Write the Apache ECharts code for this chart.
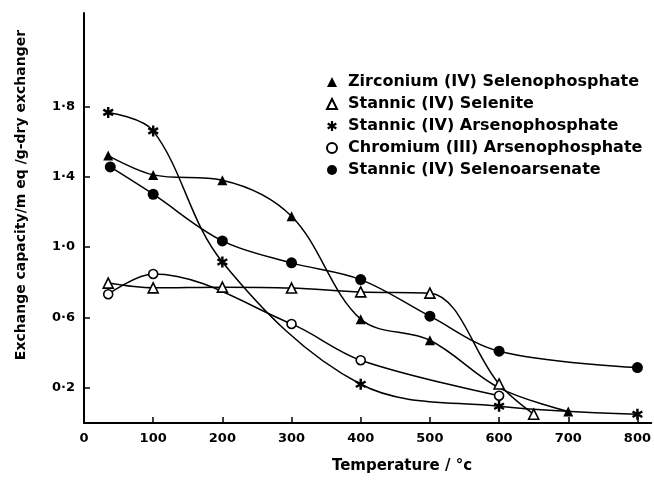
<!DOCTYPE html>
<html>
<head>
<meta charset="utf-8">
<script src="https://cdn.jsdelivr.net/npm/echarts@6/dist/echarts.min.js"></script>
<style>
html,body{margin:0;padding:0;background:#fff;}
#c{width:654px;height:480px;}
</style>
</head>
<body>
<div id="c"></div>
<script>
// ---- data ----
var seriesNames = [
  'Zirconium (IV) Selenophosphate',
  'Stannic (IV) Selenite',
  'Stannic (IV) Arsenophosphate',
  'Chromium (III) Arsenophosphate',
  'Stannic (IV) Selenoarsenate'
];
var zrSelenophosphate = [[35,1.52],[100,1.41],[200,1.38],[300,1.175],[400,0.59],[500,0.47],[600,0.2],[700,0.065]];
var zrHiddenMarkerX = [600];
var snSelenite = [[35,0.795],[100,0.768],[200,0.772],[300,0.767],[400,0.745],[500,0.738],[600,0.222],[650,0.05]];
var snArsenophosphate = [[35,1.765],[100,1.66],[200,0.915],[400,0.22],[600,0.095],[800,0.05]];
var crArsenophosphate = [[35,0.732],[100,0.847],[300,0.563],[400,0.357],[600,0.155]];
var snSelenoarsenate = [[38,1.455],[100,1.30],[200,1.035],[300,0.91],[400,0.815],[500,0.607],[600,0.408],[800,0.315]];
var xTicks = [0,100,200,300,400,500,600,700,800];
var yTicks = [0.2,0.6,1.0,1.4,1.8];
var xTitle = 'Temperature / °c';
var yTitle = 'Exchange capacity/m eq /g-dry exchanger';

var TFONT = 'DejaVu Sans';
var starPath = 'path://M3.9,10L6.1,10L6.1,0L3.9,0Z M8.78,8.453L9.88,6.547L1.22,1.547L0.12,3.453Z M0.12,6.547L1.22,8.453L9.88,3.453L8.78,1.547Z';

function mk(name, data, symbol, size, filled, hidden) {
  var d = data.map(function (p) {
    if (hidden && hidden.indexOf(p[0]) >= 0) return {value: p, symbol: 'none'};
    return p;
  });
  return {
    name: name, type: 'line', data: d, smooth: 0.35,
    symbol: symbol, symbolSize: size,
    lineStyle: {color: '#000', width: 1.5},
    itemStyle: filled ? {color: '#000', borderColor: '#000', borderWidth: 0}
                      : {color: '#fff', borderColor: '#000', borderWidth: 1.6},
    z: filled ? 3 : 4
  };
}

var chart = echarts.init(document.getElementById('c'), null, {renderer: 'canvas'});
chart.setOption({
  animation: false,
  backgroundColor: '#fff',
  grid: {left: 84, right: 0, top: 13, bottom: 57, containLabel: false},
  xAxis: {
    type: 'value', min: 0, max: 820,
    axisLine: {show: true, lineStyle: {color: '#000', width: 2}},
    axisTick: {show: true, inside: true, length: 6, lineStyle: {color: '#000', width: 1.5}, customValues: xTicks},
    axisLabel: {color: '#000', fontFamily: TFONT, fontWeight: 'bold', fontSize: 13, margin: 9, customValues: xTicks},
    splitLine: {show: false}
  },
  yAxis: {
    type: 'value', min: 0, max: 2.33,
    axisLine: {show: true, lineStyle: {color: '#000', width: 2}},
    axisTick: {show: true, inside: true, length: 6, lineStyle: {color: '#000', width: 1.5}, customValues: yTicks},
    axisLabel: {color: '#000', fontFamily: TFONT, fontWeight: 'bold', fontSize: 13, margin: 9, customValues: yTicks,
      formatter: function (v) { return v.toFixed(1).replace('.', '·'); }},
    splitLine: {show: false}
  },
  legend: {
    orient: 'vertical', left: 321, top: 68, itemGap: 4, itemWidth: 10, itemHeight: 10,
    formatter: function (n) { return '{t|' + n + '}'; },
    textStyle: {color: '#000', fontFamily: TFONT, fontWeight: 'bold', fontSize: 16, lineHeight: 18,
      rich: {t: {fontFamily: TFONT, fontWeight: 'bold', fontSize: 16, lineHeight: 18, padding: [0,0,0,6], color: '#000'}}},
    data: [
      {name: seriesNames[0], icon: 'triangle'},
      {name: seriesNames[1], icon: 'triangle'},
      {name: seriesNames[2], icon: starPath},
      {name: seriesNames[3], icon: 'circle'},
      {name: seriesNames[4], icon: 'circle'}
    ]
  },
  graphic: [
    {type: 'text', x: 402, y: 459, style: {text: xTitle, fill: '#000', font: 'bold 15px "DejaVu Sans"', align: 'center', verticalAlign: 'top'}},
    {type: 'text', x: 14, y: 195, rotation: Math.PI / 2, style: {text: yTitle, fill: '#000', font: 'bold 14px "DejaVu Sans"', align: 'center', verticalAlign: 'top'}}
  ],
  series: [
    mk(seriesNames[0], zrSelenophosphate, 'triangle', 10, true, zrHiddenMarkerX),
    mk(seriesNames[1], snSelenite, 'triangle', 10, false),
    mk(seriesNames[2], snArsenophosphate, starPath, 11, true),
    mk(seriesNames[3], crArsenophosphate, 'circle', 9, false),
    mk(seriesNames[4], snSelenoarsenate, 'circle', 11, true)
  ]
});
</script>
</body>
</html>
